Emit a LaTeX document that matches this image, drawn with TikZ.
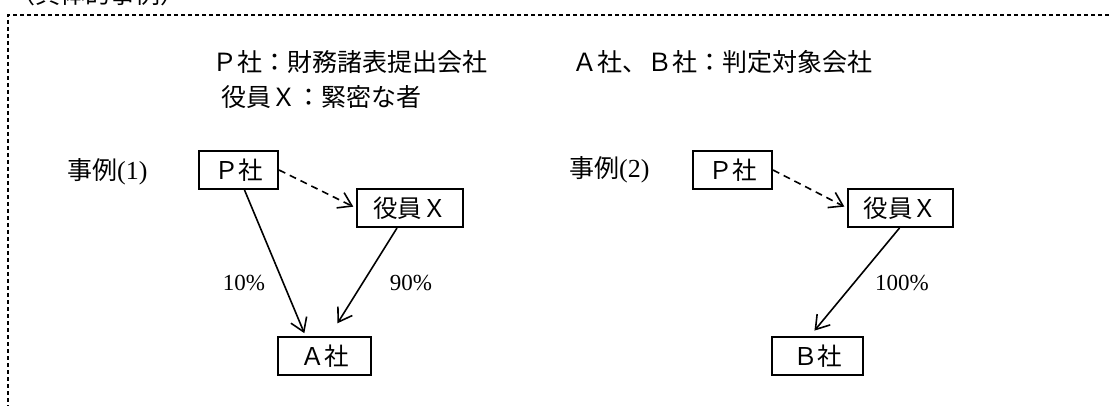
\documentclass[tikz,border=0pt]{standalone}
\usepackage{fontspec}
\setmainfont{Liberation Serif}
\newfontfamily\cjk{Noto Sans CJK JP}
\usetikzlibrary{arrows.meta}
\tikzset{
  boxnode/.style={draw, line width=2pt, inner sep=0pt, minimum height=38pt, font=\cjk\fontsize{24.5}{28}\selectfont},
  lbl/.style={inner sep=0pt, font=\cjk\fontsize{25}{28}\selectfont},
  pct/.style={inner sep=0pt, font=\fontsize{23}{26}\selectfont},
  casefont/.style={inner sep=0pt, font=\fontsize{26}{28}\selectfont},
  link/.style={line width=1.6pt, -{Straight Barb[length=13pt,width=17pt,line width=1.6pt]}},
  duty/.style={link, dash pattern=on 7pt off 5pt}
}
\begin{document}
\begin{tikzpicture}[x=1pt,y=-1pt]
\useasboundingbox (0,0) rectangle (1110,406);
\clip (0,0) rectangle (1110,406);
% frame
\draw[line width=1.3pt, dash pattern=on 4pt off 3pt] (1130,15) -- (8,15) -- (8,430);
\node[lbl, anchor=west] (title) at (10,-6) {（具体的事例）};
% legend
\node[lbl, anchor=west] (leg1) at (212,62) {Ｐ社：財務諸表提出会社};
\node[lbl, anchor=west] (leg2) at (221,97) {役員Ｘ：緊密な者};
\node[lbl, anchor=west] (leg3) at (572,62) {Ａ社、Ｂ社：判定対象会社};
% case 1
\node[casefont, anchor=west] (case1) at (67,172) {{\cjk\fontsize{25}{28}\selectfont 事例}(1)};
\node[boxnode, minimum width=79pt] (P1) at (238.5,170) {Ｐ社};
\node[boxnode, minimum width=106pt] (X1) at (410,208) {役員Ｘ};
\node[boxnode, minimum width=93pt] (A1) at (324.5,356) {Ａ社};
\draw[duty, shorten >=3pt] (P1.east) -- (X1.west);
\draw[link, shorten >=3pt] ([xshift=6pt]P1.south) -- ([xshift=-19pt]A1.north);
\draw[link, shorten >=15pt] ([xshift=-13pt]X1.south) -- ([xshift=5pt]A1.north);
\node[pct] (p10) at (244,283) {10\%};
\node[pct] (p90) at (411,283) {90\%};
% case 2
\node[casefont, anchor=west] (case2) at (569,170) {{\cjk\fontsize{25}{28}\selectfont 事例}(2)};
\node[boxnode, minimum width=79pt] (P2) at (732.5,170) {Ｐ社};
\node[boxnode, minimum width=105pt] (X2) at (900.5,208) {役員Ｘ};
\node[boxnode, minimum width=91pt] (B2) at (817.5,356) {Ｂ社};
\draw[duty, shorten >=3pt] (P2.east) -- (X2.west);
\draw[link, shorten >=7pt] ([xshift=-1pt]X2.south) -- ([xshift=-7.5pt]B2.north);
\node[pct] (p100) at (902,283) {100\%};
\end{tikzpicture}
\end{document}
